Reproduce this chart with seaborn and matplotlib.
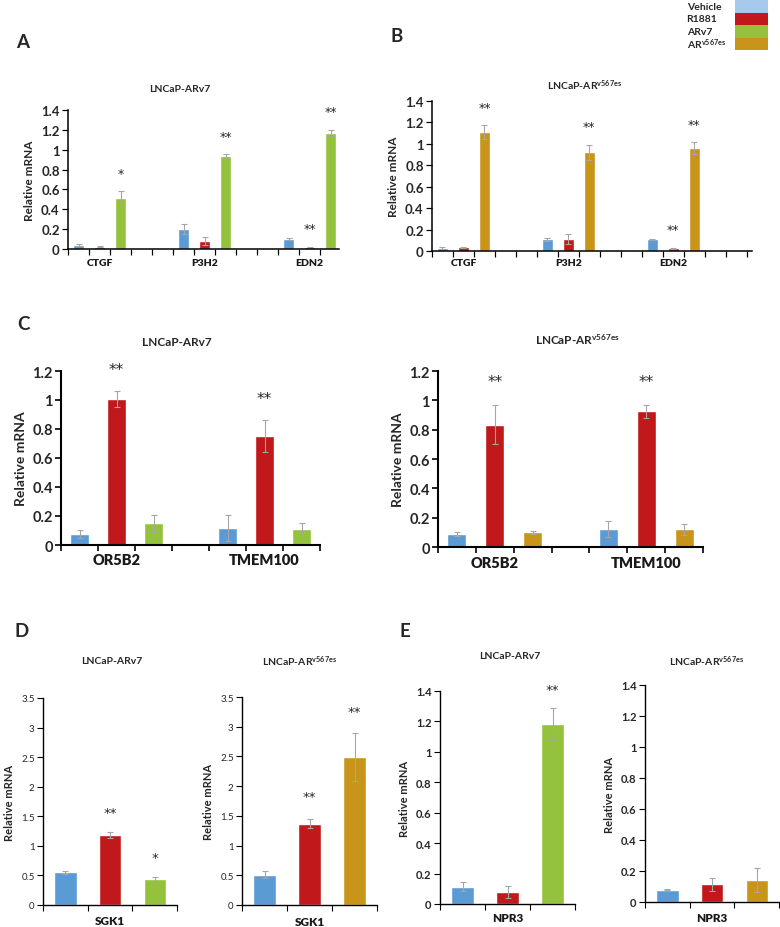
import numpy as np
import pandas as pd
import matplotlib
matplotlib.use('Agg')
import matplotlib.pyplot as plt
from matplotlib.patches import Rectangle
from matplotlib.font_manager import FontProperties
import seaborn as sns

# ---- data ----
genes_ab = ['CTGF', 'P3H2', 'EDN2']
a_vehicle = [0.04, 0.20, 0.10]
a_vehicle_err = [0.008, 0.05, 0.01]
a_r1881 = [0.025, 0.08, 0.02]
a_r1881_err = [0.005, 0.04, 0.005]
a_arv7 = [0.51, 0.94, 1.17]
a_arv7_err = [0.07, 0.012, 0.03]

b_vehicle = [0.03, 0.11, 0.11]
b_vehicle_err = [0.012, 0.015, 0.006]
b_r1881 = [0.035, 0.11, 0.025]
b_r1881_err = [0.005, 0.045, 0.005]
b_arv567 = [1.11, 0.92, 0.96]
b_arv567_err = [0.065, 0.07, 0.055]

genes_c = ['OR5B2', 'TMEM100']
c1_vehicle = [0.075, 0.115]
c1_vehicle_err = [0.03, 0.09]
c1_r1881 = [1.005, 0.75]
c1_r1881_err = [0.055, 0.11]
c1_arv7 = [0.15, 0.11]
c1_arv7_err = [0.06, 0.04]

c2_vehicle = [0.09, 0.12]
c2_vehicle_err = [0.012, 0.055]
c2_r1881 = [0.835, 0.925]
c2_r1881_err = [0.13, 0.045]
c2_arv567 = [0.10, 0.12]
c2_arv567_err = [0.01, 0.04]

genes_d = ['SGK1']
d1_vals = {'Vehicle': [0.55], 'R1881': [1.18], 'ARv7': [0.44]}
d1_errs = {'Vehicle': [0.03], 'R1881': [0.05], 'ARv7': [0.03]}
d2_vals = {'Vehicle': [0.51], 'R1881': [1.37], 'ARv567es': [2.49]}
d2_errs = {'Vehicle': [0.06], 'R1881': [0.08], 'ARv567es': [0.40]}

genes_e = ['NPR3']
e1_vals = {'Vehicle': [0.115], 'R1881': [0.08], 'ARv7': [1.185]}
e1_errs = {'Vehicle': [0.03], 'R1881': [0.04], 'ARv7': [0.105]}
e2_vals = {'Vehicle': [0.08], 'R1881': [0.113], 'ARv567es': [0.142]}
e2_errs = {'Vehicle': [0.004], 'R1881': [0.045], 'ARv567es': [0.075]}

a_stars = [('CTGF', 'ARv7', '*'), ('P3H2', 'ARv7', '**'),
           ('EDN2', 'R1881', '**'), ('EDN2', 'ARv7', '**')]
b_stars = [('CTGF', 'ARv567es', '**'), ('P3H2', 'ARv567es', '**'),
           ('EDN2', 'R1881', '**'), ('EDN2', 'ARv567es', '**')]
c_stars = [('OR5B2', 'R1881', '**'), ('TMEM100', 'R1881', '**')]
d1_stars = [('SGK1', 'R1881', '**'), ('SGK1', 'ARv7', '*')]
d2_stars = [('SGK1', 'R1881', '**'), ('SGK1', 'ARv567es', '**')]
e1_stars = [('NPR3', 'ARv7', '**')]

legend_labels = ['Vehicle', 'R1881', 'ARv7', r'AR$^{\mathbf{v567es}}$']

colors = {'Vehicle': '#5B9BD5', 'R1881': '#C0181B', 'ARv7': '#95C23D', 'ARv567es': '#C8951A'}
legend_colors = ['#A7CAEC', '#C0181B', '#95C23D', '#C8951A']

sns.set_theme(style='white')
plt.rcParams['font.family'] = ['Lato', 'DejaVu Sans']
plt.rcParams['mathtext.fontset'] = 'custom'
plt.rcParams['mathtext.rm'] = 'Lato'
plt.rcParams['mathtext.bf'] = 'Lato:bold'
plt.rcParams['mathtext.it'] = 'Lato:italic'

W, H = 780, 928
fig = plt.figure(figsize=(W / 100, H / 100), dpi=100)


def rect(x1, x2, y_top, y_bot):
    return [x1 / W, 1 - y_bot / H, (x2 - x1) / W, (y_bot - y_top) / H]


def ftext(x, y, s, **kw):
    fig.text(x / W, 1 - y / H, s, ha='center', va='center', **kw)


def panel(box, genes, vals, errs, stars, ymax, ystep, xlim, width,
          tick_fs, tick_bold, xlab_fs, ylab_fs, star_fs, star_off, spine_lw, xpad):
    ax = fig.add_axes(box)
    conds = list(vals)
    df = pd.DataFrame([{'gene': g, 'cond': c, 'value': v}
                       for c in conds for g, v in zip(genes, vals[c])])
    sns.barplot(data=df, x='gene', y='value', hue='cond', order=genes,
                hue_order=conds, palette=[colors[c] for c in conds],
                width=width, gap=0.5, errorbar=None, saturation=1,
                legend=False, ax=ax)
    tops = {}
    xs, ys, es = [], [], []
    for cont, c in zip(ax.containers, conds):
        for bar, g, e in zip(cont, genes, errs[c]):
            x = bar.get_x() + bar.get_width() / 2
            y = bar.get_height()
            xs.append(x); ys.append(y); es.append(e)
            tops[(g, c)] = (x, y + e)
    ax.errorbar(xs, ys, yerr=es, fmt='none', ecolor='#A6A6A6',
                elinewidth=0.8, capsize=2.5, capthick=0.8)
    for g, c, lab in stars:
        x, t = tops[(g, c)]
        ax.annotate(lab, (x, t), xytext=(0, star_off), textcoords='offset points',
                    ha='center', va='center', fontsize=star_fs, color='#262626',
                    family='DejaVu Sans')
    ax.set_xlim(*xlim)
    ax.set_ylim(0, ymax)
    yt = np.round(np.arange(0, ymax + 1e-9, ystep), 2)
    ax.set_yticks(yt)
    ax.set_yticklabels(['{:g}'.format(v) for v in yt], fontsize=tick_fs,
                       fontweight='bold' if tick_bold else 'normal')
    # category names drawn under the axis (bold)
    ax.set_xticks(range(len(genes)))
    ax.set_xticklabels([''] * len(genes))
    xfont = FontProperties(family='Lato', weight='heavy', size=xlab_fs)
    for i, g in enumerate(genes):
        ax.annotate(g, (i, 0), xycoords=('data', 'axes fraction'),
                    xytext=(0, -xpad), textcoords='offset points',
                    ha='center', va='center', fontproperties=xfont,
                    color='#1a1a1a', annotation_clip=False)
    slot = width / len(conds)
    ax.set_xticks(np.arange(xlim[0], xlim[1] + 1e-6, slot), minor=True)
    ax.tick_params(axis='x', which='major', length=0, bottom=True)
    ax.tick_params(axis='x', which='minor', length=4, width=spine_lw * 0.8,
                   direction='out', bottom=True, color='black')
    ax.tick_params(axis='y', length=4, width=spine_lw * 0.8, direction='out',
                   left=True, color='black', pad=2)
    ax.set_xlabel('')
    ax.set_ylabel('Relative mRNA', fontsize=ylab_fs, fontweight='bold')
    sns.despine(ax=ax)
    for s in ('left', 'bottom'):
        ax.spines[s].set_color('black')
        ax.spines[s].set_linewidth(spine_lw)
    return ax


# Panel A and B
panel(rect(68, 339, 111, 250), genes_ab,
      {'Vehicle': a_vehicle, 'R1881': a_r1881, 'ARv7': a_arv7},
      {'Vehicle': a_vehicle_err, 'R1881': a_r1881_err, 'ARv7': a_arv7_err},
      a_stars, 1.4, 0.2, (-0.3, 2.28), 0.6, 9.5, True, 7.5, 8.5, 9, 13, 1.1, 10)
panel(rect(432, 752, 102, 252), genes_ab,
      {'Vehicle': b_vehicle, 'R1881': b_r1881, 'ARv567es': b_arv567},
      {'Vehicle': b_vehicle_err, 'R1881': b_r1881_err, 'ARv567es': b_arv567_err},
      b_stars, 1.4, 0.2, (-0.3, 2.75), 0.6, 9.5, True, 7.5, 8.5, 9, 13, 1.1, 8)

# Panel C
panel(rect(61, 320, 372, 546), genes_c,
      {'Vehicle': c1_vehicle, 'R1881': c1_r1881, 'ARv7': c1_arv7},
      {'Vehicle': c1_vehicle_err, 'R1881': c1_r1881_err, 'ARv7': c1_arv7_err},
      c_stars, 1.2, 0.2, (-0.375, 1.375), 0.75, 10.5, True, 10.5, 10, 11, 16, 1.5, 10.5)
panel(rect(438, 703, 372, 548), genes_c,
      {'Vehicle': c2_vehicle, 'R1881': c2_r1881, 'ARv567es': c2_arv567},
      {'Vehicle': c2_vehicle_err, 'R1881': c2_r1881_err, 'ARv567es': c2_arv567_err},
      c_stars, 1.2, 0.2, (-0.375, 1.375), 0.75, 10.5, True, 10.5, 10, 11, 17, 1.5, 11)

# Panel D and E
panel(rect(43, 177, 699, 906), genes_d, d1_vals, d1_errs, d1_stars,
      3.5, 0.5, (-0.5, 0.5), 1.0, 7, False, 8.5, 8, 9.5, 14, 1.0, 11.5)
panel(rect(242, 377, 698, 906), genes_d, d2_vals, d2_errs, d2_stars,
      3.5, 0.5, (-0.5, 0.5), 1.0, 7, False, 8.5, 8, 9.5, 16, 1.0, 12)
panel(rect(440, 575, 692, 905), genes_e, e1_vals, e1_errs, e1_stars,
      1.4, 0.2, (-0.5, 0.5), 1.0, 8, True, 8.5, 8, 9.5, 13, 1.0, 9.5)
panel(rect(645, 779, 686, 903), genes_e, e2_vals, e2_errs, [],
      1.4, 0.2, (-0.5, 0.5), 1.0, 8, True, 8.5, 8, 9.5, 13, 1.0, 11)

# titles
v7 = 'LNCaP-ARv7'
v567 = r'LNCaP-AR$^{\mathbf{v567es}}$'
ftext(180, 90, v7, fontsize=7.5, fontweight='bold')
ftext(585, 86, v567, fontsize=7.5, fontweight='bold')
ftext(177, 343, v7, fontsize=8.5, fontweight='bold')
ftext(577, 340, v567, fontsize=8.5, fontweight='bold')
ftext(112, 662, v7, fontsize=7.5, fontweight='bold')
ftext(300, 662, v567, fontsize=7.5, fontweight='bold')
ftext(510, 657, v7, fontsize=7.5, fontweight='bold')
ftext(707, 662, v567, fontsize=7.5, fontweight='bold')

# panel letters
for letter, x, y in [('A', 23, 42), ('B', 397, 37), ('C', 23, 325),
                     ('D', 22, 632), ('E', 405, 632)]:
    ftext(x, y, letter, fontsize=13.5, fontweight='bold')

# legend (top right)
leg = fig.add_axes(rect(684, 770, 1, 51))
leg.set_xlim(0, 1)
leg.set_ylim(4, 0)
leg.axis('off')
for i, (lab, col) in enumerate(zip(legend_labels, legend_colors)):
    leg.add_patch(Rectangle((0.59, i), 0.39, 1, facecolor=col, edgecolor='none'))
    leg.text(0.03, i + 0.5, lab, ha='left', va='center', fontsize=7.5,
             fontweight='bold')

fig.savefig('out.png', dpi=100)
